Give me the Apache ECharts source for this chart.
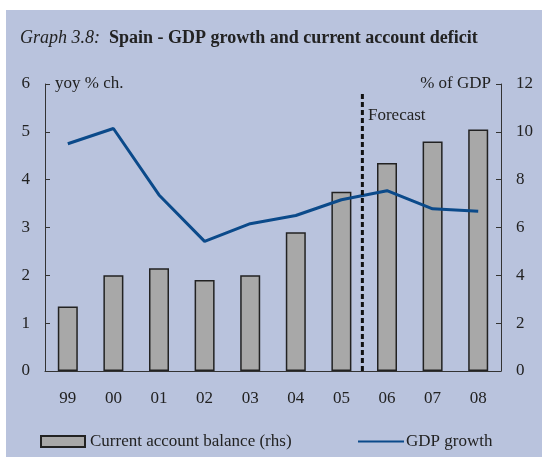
<!DOCTYPE html>
<html>
<head>
<meta charset="utf-8">
<script src="https://cdn.jsdelivr.net/npm/echarts@6/dist/echarts.min.js"></script>
<style>
  html, body { margin: 0; padding: 0; background: #ffffff; }
  #panel { position: absolute; left: 6px; top: 10px; width: 536px; height: 447px; background: #b9c3dd; }
  #chart { position: absolute; left: 0; top: 0; width: 542px; height: 459px; }
</style>
</head>
<body>
<div id="panel"></div>
<div id="chart"></div>
<script>
// chart data
var years = ['99', '00', '01', '02', '03', '04', '05', '06', '07', '08'];
var currentAccount = [2.7, 4.0, 4.3, 3.8, 4.0, 5.8, 7.5, 8.7, 9.6, 10.1]; // % of GDP (rhs)
var gdpGrowth = [4.75, 5.07, 3.68, 2.71, 3.08, 3.25, 3.58, 3.77, 3.39, 3.34]; // yoy % ch.
var leftTicks = [0, 6, 1];   // min, max, step
var rightTicks = [0, 12, 2];
var forecastAt = 6.96;       // position on category scale (0..10) of the forecast divider
var forecastTop = 5.83;      // height of divider on left axis

var serif = "'Liberation Serif', 'Times New Roman', serif";
var ink = '#222222';

var chart = echarts.init(document.getElementById('chart'), null, { renderer: 'canvas' });

chart.setOption({
    backgroundColor: 'transparent',
    animation: false,
    textStyle: { fontFamily: serif, color: ink },
    title: {
        left: 15,
        top: 24,
        text: '{i|Graph 3.8:}  {b|Spain - GDP growth and current account deficit}',
        textStyle: {
            rich: {
                i: { fontFamily: serif, fontStyle: 'italic', fontWeight: 'normal', fontSize: 18, color: ink },
                b: { fontFamily: serif, fontWeight: 'bold', fontSize: 18, color: ink }
            }
        }
    },
    grid: { left: 45, right: 41, top: 84, bottom: 88 },
    legend: [{
        left: 35,
        top: 428,
        itemWidth: 44,
        itemHeight: 11,
        itemGap: 0,
        data: [{ name: 'Current account balance (rhs)', icon: 'rect' }],
        textStyle: { fontFamily: serif, fontSize: 17, color: ink }
    }, {
        left: 352,
        top: 428,
        itemWidth: 46,
        itemHeight: 11,
        data: [{ name: 'GDP growth', itemStyle: { opacity: 0 } }],
        textStyle: { fontFamily: serif, fontSize: 17, color: ink, padding: [0, 0, 0, -3] }
    }],
    xAxis: [{
        type: 'category',
        data: years,
        axisLine: { lineStyle: { color: '#333333', width: 1 } },
        axisTick: { inside: true, length: 5, lineStyle: { color: '#333333' } },
        axisLabel: { fontFamily: serif, fontSize: 17, color: ink, margin: 19 }
    }, {
        type: 'value',
        min: 0,
        max: 10,
        show: false
    }],
    yAxis: [{
        type: 'value',
        min: leftTicks[0],
        max: leftTicks[1],
        interval: leftTicks[2],
        name: 'yoy % ch.',
        nameLocation: 'end',
        nameGap: 0,
        nameTextStyle: { fontFamily: serif, fontSize: 17, color: ink, align: 'left', verticalAlign: 'middle', padding: [0, 0, 0, 10] },
        axisLine: { show: true, lineStyle: { color: '#333333' } },
        axisTick: { show: true, inside: true, length: 5, lineStyle: { color: '#333333' } },
        axisLabel: { fontFamily: serif, fontSize: 17, color: ink, margin: 15 },
        splitLine: { show: false }
    }, {
        type: 'value',
        position: 'right',
        min: rightTicks[0],
        max: rightTicks[1],
        interval: rightTicks[2],
        name: '% of GDP',
        nameLocation: 'end',
        nameGap: 0,
        nameTextStyle: { fontFamily: serif, fontSize: 17, color: ink, align: 'right', verticalAlign: 'middle', padding: [0, 10, 0, 0] },
        axisLine: { show: true, lineStyle: { color: '#333333' } },
        axisTick: { show: true, inside: true, length: 5, lineStyle: { color: '#333333' } },
        axisLabel: { fontFamily: serif, fontSize: 17, color: ink, margin: 15 },
        splitLine: { show: false }
    }],
    graphic: [{
        type: 'text',
        left: 368,
        top: 107,
        style: { text: 'Forecast', font: '17px ' + serif, fill: ink }
    }],
    series: [{
        name: 'Current account balance (rhs)',
        type: 'bar',
        yAxisIndex: 1,
        data: currentAccount,
        barWidth: 20,
        itemStyle: { color: '#a8a8a8', borderColor: '#222222', borderWidth: 1.5 }
    }, {
        name: 'GDP growth',
        type: 'line',
        yAxisIndex: 0,
        data: gdpGrowth,
        symbol: 'none',
        lineStyle: { color: '#0b4a8a', width: 3 },
        itemStyle: { color: '#0b4a8a' }
    }, {
        name: 'forecast',
        type: 'line',
        xAxisIndex: 1,
        yAxisIndex: 0,
        data: [[forecastAt, 0], [forecastAt, forecastTop]],
        symbol: 'none',
        silent: true,
        lineStyle: { color: '#111111', width: 3, type: [5, 3] }
    }]
});
</script>
</body>
</html>
